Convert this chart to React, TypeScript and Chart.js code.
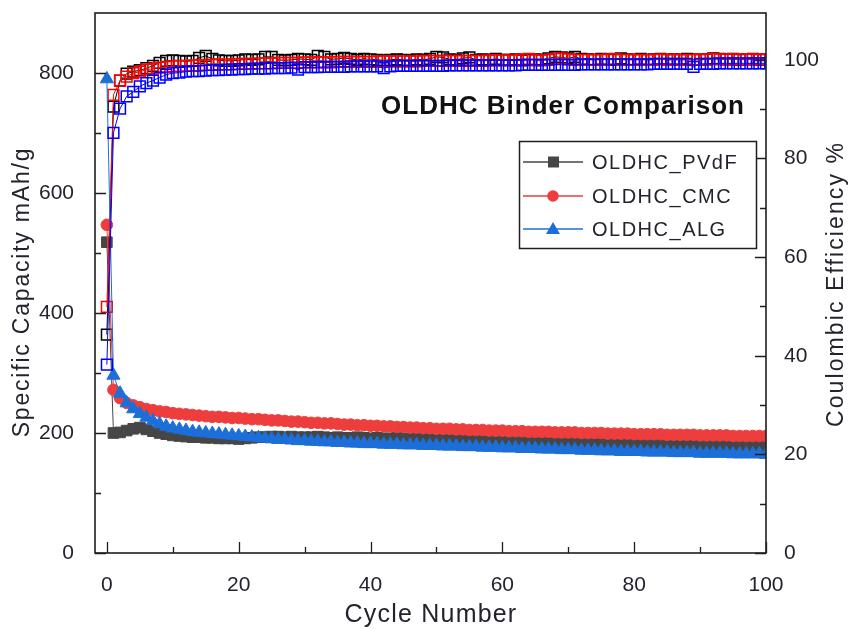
import React, { useEffect, useRef } from 'react';
import { Chart, registerables } from 'chart.js';
Chart.register(...registerables);

// ---- data (cycle number = array index, 0..100) ----
const pvdfCap = [518, 200, 201, 204, 207, 209, 206, 203, 200, 198, 196,
  195, 194, 193, 193, 192, 192, 191, 191, 191, 190,
  191, 192, 193, 193, 194, 194, 193, 194, 193, 193,
  193, 194, 193, 192, 193, 192, 192, 193, 192, 191,
  192, 191, 191, 192, 191, 190, 191, 190, 190, 190,
  189, 190, 189, 189, 188, 189, 188, 188, 187, 188,
  187, 187, 186, 187, 186, 186, 185, 186, 185, 185,
  185, 184, 185, 184, 184, 183, 184, 183, 183, 183,
  182, 183, 182, 182, 181, 182, 181, 181, 181, 180,
  181, 180, 180, 180, 179, 180, 179, 179, 179, 178];
const cmcCap = [547, 272, 258, 250, 246, 243, 240, 238, 236, 235, 233,
  232, 231, 230, 229, 228, 227, 227, 226, 225, 225,
  224, 223, 223, 222, 221, 221, 220, 219, 219, 218,
  217, 217, 216, 216, 215, 214, 214, 213, 213, 212,
  212, 211, 211, 210, 210, 209, 209, 208, 208, 207,
  207, 207, 206, 206, 205, 205, 205, 204, 204, 204,
  203, 203, 203, 202, 202, 202, 202, 201, 201, 201,
  201, 200, 200, 200, 200, 199, 199, 199, 199, 198,
  198, 198, 198, 198, 197, 197, 197, 197, 197, 196,
  196, 196, 196, 196, 195, 195, 195, 195, 195, 195];
const algCap = [790, 296, 266, 250, 240, 232, 226, 220, 215, 211, 208,
  206, 204, 202, 201, 200, 199, 198, 197, 196, 195,
  194, 193, 192, 191, 190, 189, 189, 188, 187, 187,
  186, 186, 185, 185, 184, 184, 183, 183, 182, 182,
  182, 181, 181, 181, 180, 180, 180, 179, 179, 179,
  178, 178, 178, 177, 177, 177, 176, 176, 176, 175,
  175, 175, 174, 174, 174, 173, 173, 173, 172, 172,
  172, 171, 171, 171, 170, 170, 170, 169, 169, 169,
  169, 168, 168, 168, 168, 167, 167, 167, 167, 166,
  166, 166, 166, 166, 165, 165, 165, 165, 165, 164];
const pvdfCE = [44.3, 90.5, 95.8, 97.2, 97.6, 97.9, 98.3, 98.8, 99.4, 99.8, 99.9,
  99.8, 99.7, 99.8, 100.4, 100.8, 100.2, 99.9, 99.8, 99.8, 99.9,
  100.1, 100.0, 100.1, 100.6, 100.6, 100.0, 99.9, 100.0, 100.2, 100.1,
  100.0, 100.8, 100.6, 100.1, 100.2, 100.4, 100.2, 100.0, 100.2, 100.1,
  100.0, 99.9, 100.0, 100.1, 100.0, 99.9, 100.1, 100.0, 100.2, 100.6,
  100.5, 100.1, 100.0, 100.3, 100.5, 100.0, 100.1, 100.0, 100.2, 100.0,
  100.0, 100.1, 99.9, 100.0, 100.1, 100.0, 100.3, 100.6, 100.5, 100.3,
  100.6, 100.2, 100.1, 100.0, 100.2, 100.1, 100.0, 100.3, 100.1, 100.0,
  100.2, 100.0, 100.1, 100.2, 100.0, 100.1, 100.0, 100.2, 100.1, 100.0,
  100.1, 100.3, 100.2, 100.1, 100.2, 100.0, 100.1, 100.2, 100.0, 100.1];
const cmcCE = [49.9, 92.9, 95.8, 96.6, 97.3, 97.6, 98.0, 98.2, 98.4, 98.6, 98.7,
  98.8, 98.8, 98.9, 98.9, 99.0, 99.0, 99.1, 99.1, 99.1, 99.2,
  99.2, 99.2, 99.3, 99.3, 99.3, 99.4, 99.4, 99.4, 99.4, 99.5,
  99.5, 99.5, 99.5, 99.5, 99.6, 99.6, 99.6, 99.6, 99.6, 99.6,
  99.7, 99.7, 99.7, 99.7, 99.7, 99.7, 99.7, 99.8, 99.8, 99.8,
  99.8, 99.8, 99.8, 99.8, 99.8, 99.8, 99.8, 99.9, 99.9, 99.9,
  99.9, 99.9, 100.1, 100.2, 99.9, 99.9, 100.0, 100.2, 100.3, 100.1,
  100.0, 100.0, 100.0, 100.0, 100.0, 100.1, 100.2, 100.0, 100.0, 100.0,
  100.0, 100.0, 100.0, 100.1, 100.0, 100.0, 100.0, 100.0, 100.0, 100.1,
  100.1, 100.2, 100.1, 100.1, 100.1, 100.1, 100.1, 100.1, 100.1, 100.1];
const algCE = [38.2, 85.2, 90.1, 92.6, 93.5, 94.6, 95.3, 95.8, 96.4, 97.0, 97.3,
  97.4, 97.6, 97.7, 97.7, 97.8, 97.9, 97.9, 98.0, 98.0, 98.1,
  98.1, 98.2, 98.2, 98.2, 98.3, 98.3, 98.3, 98.4, 98.0, 98.5,
  98.5, 98.5, 98.6, 98.6, 98.6, 98.6, 98.7, 98.7, 98.7, 98.7,
  98.7, 98.3, 98.7, 98.8, 98.8, 98.8, 98.8, 98.8, 98.8, 98.8,
  98.8, 98.9, 98.9, 98.9, 98.9, 98.9, 98.9, 98.9, 98.9, 98.9,
  98.9, 98.9, 99.0, 99.0, 99.0, 99.0, 99.0, 99.0, 99.0, 99.0,
  99.0, 99.1, 99.1, 99.1, 99.1, 99.1, 99.1, 99.1, 99.1, 99.1,
  99.1, 99.1, 99.2, 99.2, 99.2, 99.2, 99.2, 99.2, 98.6, 99.2,
  99.2, 99.2, 99.3, 99.3, 99.3, 99.3, 99.3, 99.3, 99.3, 99.3];

const seriesNames = ['OLDHC_PVdF', 'OLDHC_CMC', 'OLDHC_ALG'];
const xMajor = [0, 20, 40, 60, 80, 100];
const xMinor = [10, 30, 50, 70, 90];
const capMajor = [0, 200, 400, 600, 800];
const capMinor = [100, 300, 500, 700];
const ceMajor = [0, 20, 40, 60, 80, 100];
const ceMinor = [10, 30, 50, 70, 90];
const chartTitle = 'OLDHC Binder Comparison';
const xTitle = 'Cycle Number';
const yLeftTitle = 'Specific Capacity mAh/g';
const yRightTitle = 'Coulombic Efficiency %';

const FONT = '"Liberation Sans", Arial, Helvetica, sans-serif';
const TXT = '#23232e';
const AXIS = '#1e1e1e';

const capColors = ['#464646', '#ee3d3d', '#1c6fd9'];
const ceColors = ['#000000', '#ff0000', '#0000ff'];
const capStyles = ['rect', 'circle', 'triangle'];
const capRadius = [7.5, 5.8, 7.6];

const toXY = (arr: number[]) => arr.map((v, i) => ({ x: i, y: v }));

const decor = {
  id: 'decor',
  afterDraw(chart: any) {
    const { ctx, chartArea: a, scales } = chart;
    const sx = scales.x, sl = scales.yCap, sr = scales.yCE;
    ctx.save();
    ctx.strokeStyle = AXIS;
    ctx.lineWidth = 1.6;
    ctx.strokeRect(a.left, a.top, a.right - a.left, a.bottom - a.top);
    ctx.lineWidth = 1.3;
    ctx.beginPath();
    const tick = (vals: number[], len: number, fn: (v: number, len: number) => void) => vals.forEach(v => fn(v, len));
    const bx = (v: number, len: number) => { const p = Math.round(sx.getPixelForValue(v)) + 0.5; ctx.moveTo(p, a.bottom); ctx.lineTo(p, a.bottom - len); };
    const ly = (v: number, len: number) => { const p = Math.round(sl.getPixelForValue(v)) + 0.5; ctx.moveTo(a.left, p); ctx.lineTo(a.left + len, p); };
    const ry = (v: number, len: number) => { const p = Math.round(sr.getPixelForValue(v)) + 0.5; ctx.moveTo(a.right, p); ctx.lineTo(a.right - len, p); };
    tick(xMajor, 11, bx); tick(xMinor, 6, bx);
    tick(capMajor, 11, ly); tick(capMinor, 6, ly);
    tick(ceMajor, 11, ry); tick(ceMinor, 6, ry);
    ctx.stroke();

    const spaced = (px: number) => { (ctx as any).letterSpacing = px + 'px'; };

    // axis titles
    ctx.fillStyle = TXT;
    ctx.textAlign = 'center';
    ctx.textBaseline = 'middle';
    ctx.font = `23px ${FONT}`;
    spaced(1.8);
    ctx.save(); ctx.translate(23, 292); ctx.rotate(-Math.PI / 2); ctx.fillText(yLeftTitle, 0, 0); ctx.restore();
    spaced(2.1);
    ctx.save(); ctx.translate(837, 284); ctx.rotate(-Math.PI / 2); ctx.fillText(yRightTitle, 0, 0); ctx.restore();
    ctx.font = `25px ${FONT}`;
    spaced(1.2);
    ctx.fillText(xTitle, 431, 615);

    // chart title
    ctx.fillStyle = '#111';
    ctx.font = `bold 26px ${FONT}`;
    ctx.textAlign = 'right';
    spaced(1);
    ctx.fillText(chartTitle, 745, 107);

    // legend
    spaced(0);
    ctx.fillStyle = '#fff';
    ctx.fillRect(519, 141, 238, 108);
    ctx.strokeStyle = AXIS;
    ctx.lineWidth = 1.5;
    ctx.strokeRect(519.5, 141.5, 237, 107);
    const rows = [162, 196, 229];
    rows.forEach((yy, i) => {
      const c = capColors[i];
      ctx.strokeStyle = c; ctx.lineWidth = 1.3;
      ctx.beginPath(); ctx.moveTo(523, yy); ctx.lineTo(583, yy); ctx.stroke();
      ctx.fillStyle = c;
      ctx.beginPath();
      if (i === 0) ctx.rect(548, yy - 5.5, 11, 11);
      else if (i === 1) ctx.arc(553, yy, 5.8, 0, Math.PI * 2);
      else { ctx.moveTo(553, yy - 7); ctx.lineTo(560, yy + 5); ctx.lineTo(546, yy + 5); ctx.closePath(); }
      ctx.fill();
      ctx.fillStyle = TXT;
      ctx.font = `20px ${FONT}`;
      ctx.textAlign = 'left';
      ctx.textBaseline = 'middle';
      spaced(1.5);
      ctx.fillText(seriesNames[i], 592, yy + 1);
      spaced(0);
    });
    ctx.restore();
  },
};

export default function App() {
  const ref = useRef<HTMLCanvasElement>(null);
  useEffect(() => {
    const caps = [pvdfCap, cmcCap, algCap];
    const ces = [pvdfCE, cmcCE, algCE];
    const datasets: any[] = [];
    [0, 1, 2].forEach(i => {
      datasets.push({
        label: seriesNames[i] + ' capacity',
        data: toXY(caps[i]),
        yAxisID: 'yCap',
        borderColor: capColors[i],
        borderWidth: 1,
        pointStyle: capStyles[i],
        pointRadius: capRadius[i],
        pointBackgroundColor: capColors[i],
        pointBorderColor: capColors[i],
        pointBorderWidth: 1,
        showLine: true,
        fill: false,
        tension: 0,
        order: 6 - 2 * i,
      });
      datasets.push({
        label: seriesNames[i] + ' CE',
        data: toXY(ces[i]),
        yAxisID: 'yCE',
        borderColor: ceColors[i],
        borderWidth: 1,
        pointStyle: 'rect',
        pointRadius: 7.6,
        pointBackgroundColor: 'rgba(0,0,0,0)',
        pointBorderColor: ceColors[i],
        pointBorderWidth: 1.5,
        showLine: true,
        fill: false,
        tension: 0,
        order: 5 - 2 * i,
      });
    });
    const tickFont = { family: FONT, size: 21 };
    const noPad = (s: any) => { s.paddingTop = 0; s.paddingBottom = 0; s.paddingLeft = 0; s.paddingRight = 0; };
    const chart = new Chart(ref.current!, {
      type: 'line',
      data: { datasets },
      plugins: [decor],
      options: {
        animation: false,
        responsive: false,
        devicePixelRatio: 1,
        layout: { padding: { top: 13, left: 0, right: 0, bottom: 0 } },
        plugins: { legend: { display: false }, tooltip: { enabled: false }, title: { display: false } },
        scales: {
          x: {
            type: 'linear', min: -1.8, max: 100,
            grid: { display: false }, border: { display: false },
            afterBuildTicks: (s: any) => { s.ticks = xMajor.map(v => ({ value: v })); },
            afterFit: (s: any) => { s.height = 76; noPad(s); },
            ticks: { font: tickFont, color: TXT, padding: 12, maxRotation: 0, autoSkip: false },
          },
          yCap: {
            type: 'linear', position: 'left', min: 0, max: 900,
            grid: { display: false }, border: { display: false },
            afterBuildTicks: (s: any) => { s.ticks = capMajor.map(v => ({ value: v })); },
            afterFit: (s: any) => { s.width = 95; noPad(s); },
            ticks: { font: tickFont, color: TXT, padding: 13, autoSkip: false },
          },
          yCE: {
            type: 'linear', position: 'right', min: 0, max: 109.5,
            grid: { display: false }, border: { display: false },
            afterBuildTicks: (s: any) => { s.ticks = ceMajor.map(v => ({ value: v })); },
            afterFit: (s: any) => { s.width = 83; noPad(s); },
            ticks: { font: tickFont, color: TXT, padding: 10, autoSkip: false },
          },
        },
      } as any,
    });
    return () => chart.destroy();
  }, []);
  return (
    <div style={{ position: 'fixed', left: 0, top: 0, width: 849, height: 629, background: '#fff' }}>
      <canvas ref={ref} width={849} height={629} style={{ width: 849, height: 629, display: 'block' }} />
    </div>
  );
}
